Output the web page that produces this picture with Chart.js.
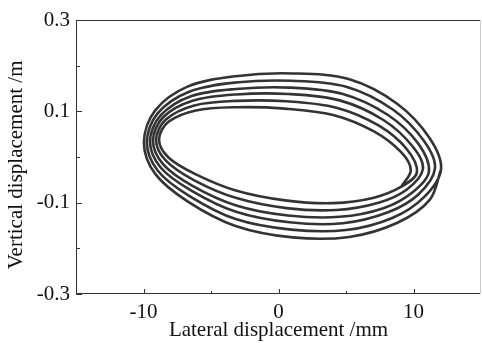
<!DOCTYPE html>
<html>
<head>
<meta charset="utf-8">
<script src="https://cdn.jsdelivr.net/npm/chart.js@4.4.0/dist/chart.umd.min.js"></script>
<style>
  html, body { margin: 0; padding: 0; background: #fff; }
</style>
</head>
<body>
<canvas id="orbitChart" width="482" height="343"></canvas>
<script>
// axis ticks
const xTicks = [-10, 0, 10];
const xMinorTicks = [-5, 5];
const yTicks = [-0.3, -0.1, 0.1, 0.3];
const yMinorTicks = [-0.2, 0, 0.2];

// lateral (mm) / vertical (m) displacement, one pair per loop, inner loop first.
// each loop starts at its right end and runs anticlockwise
const loop1X = [9.80, 9.10, 7.07, 4.05, 0.48, -3.10, -6.12, -8.15, -8.85, -8.15, -6.12, -3.10, 0.48, 4.05, 7.07, 9.10];
const loop1Y = [-0.029, 0.010, 0.056, 0.092, 0.106, 0.109, 0.102, 0.077, 0.039, -0.001, -0.038, -0.074, -0.095, -0.101, -0.089, -0.065];

const loop2X = [10.25, 9.51, 7.41, 4.29, 0.59, -3.11, -6.24, -8.34, -9.07, -8.34, -6.24, -3.11, 0.59, 4.29, 7.41, 9.51];
const loop2Y = [-0.034, 0.017, 0.069, 0.108, 0.122, 0.123, 0.113, 0.082, 0.038, -0.008, -0.051, -0.090, -0.112, -0.116, -0.100, -0.071];

const loop3X = [10.70, 9.94, 7.77, 4.53, 0.70, -3.13, -6.37, -8.54, -9.30, -8.54, -6.37, -3.13, 0.70, 4.53, 7.77, 9.94];
const loop3Y = [-0.026, 0.023, 0.081, 0.124, 0.138, 0.137, 0.123, 0.087, 0.036, -0.016, -0.063, -0.106, -0.128, -0.131, -0.112, -0.077];

const loop4X = [11.14, 10.36, 8.11, 4.77, 0.81, -3.15, -6.49, -8.73, -9.52, -8.73, -6.49, -3.15, 0.81, 4.77, 8.11, 10.36];
const loop4Y = [-0.032, 0.029, 0.092, 0.138, 0.152, 0.149, 0.133, 0.091, 0.035, -0.023, -0.073, -0.120, -0.143, -0.145, -0.121, -0.082];

const loop5X = [11.59, 10.78, 8.47, 5.01, 0.92, -3.17, -6.62, -8.94, -9.75, -8.94, -6.62, -3.17, 0.92, 5.01, 8.47, 10.78];
const loop5Y = [-0.025, 0.035, 0.104, 0.154, 0.167, 0.163, 0.143, 0.096, 0.033, -0.030, -0.085, -0.136, -0.159, -0.160, -0.133, -0.088];

const loop6X = [12.04, 11.20, 8.81, 5.25, 1.04, -3.18, -6.74, -9.13, -9.97, -9.13, -6.74, -3.18, 1.04, 5.25, 8.81, 11.20];
const loop6Y = [-0.027, 0.041, 0.116, 0.170, 0.183, 0.177, 0.154, 0.102, 0.032, -0.037, -0.097, -0.151, -0.176, -0.175, -0.144, -0.094];

const loopsX = [loop1X, loop2X, loop3X, loop4X, loop5X, loop6X];
const loopsY = [loop1Y, loop2Y, loop3Y, loop4Y, loop5Y, loop6Y];

// one continuous trajectory spiralling outward; first loop is entered from its
// last point and the outer loop is closed back onto its first point
const trajectory = [{ x: loop1X[15], y: loop1Y[15] }];
loopsX.forEach((xs, i) => {
    xs.forEach((x, j) => trajectory.push({ x: x, y: loopsY[i][j] }));
});
trajectory.push({ x: loop6X[0], y: loop6Y[0] });

const axisFont = { family: '"Liberation Serif", "Times New Roman", serif', size: 21 };
const textColor = '#111';

// box frame plus inward major/minor ticks
const frameTicks = {
    id: 'frameTicks',
    afterDraw(chart) {
        const { ctx, chartArea: a, scales: { x, y } } = chart;
        ctx.save();
        ctx.lineWidth = 1;
        ctx.strokeStyle = '#333';
        ctx.beginPath();
        ctx.moveTo(a.right, a.top + 0.5);
        ctx.lineTo(a.left + 0.5, a.top + 0.5);
        ctx.lineTo(a.left + 0.5, a.bottom - 0.5);
        ctx.lineTo(a.right, a.bottom - 0.5);
        ctx.stroke();

        ctx.strokeStyle = '#ccc';
        ctx.beginPath();
        ctx.moveTo(a.right - 0.5, a.top);
        ctx.lineTo(a.right - 0.5, a.bottom);
        ctx.stroke();

        ctx.strokeStyle = '#333';
        ctx.beginPath();
        const xTick = (v, len) => {
            const px = Math.round(x.getPixelForValue(v)) + 0.5;
            ctx.moveTo(px, a.bottom);
            ctx.lineTo(px, a.bottom - len);
        };
        const yTick = (v, len) => {
            const py = Math.round(y.getPixelForValue(v)) + 0.5;
            ctx.moveTo(a.left, py);
            ctx.lineTo(a.left + len, py);
        };
        xTicks.forEach(v => xTick(v, 5));
        xMinorTicks.forEach(v => xTick(v, 3));
        yTicks.forEach(v => yTick(v, 6));
        yMinorTicks.forEach(v => yTick(v, 4));
        ctx.stroke();
        ctx.restore();
    }
};

const ctx = document.getElementById('orbitChart').getContext('2d');
new Chart(ctx, {
    type: 'scatter',
    data: {
        datasets: [{
            data: trajectory,
            showLine: true,
            borderColor: '#333',
            borderWidth: 2.6,
            tension: 0.34,
            pointRadius: 0,
            fill: false
        }]
    },
    options: {
        responsive: false,
        animation: false,
        devicePixelRatio: 1,
        layout: { padding: { top: 20, right: 1, left: 0, bottom: 0 } },
        plugins: {
            legend: { display: false },
            tooltip: { enabled: false }
        },
        scales: {
            x: {
                type: 'linear',
                min: -15,
                max: 15,
                afterBuildTicks: s => { s.ticks = xTicks.map(v => ({ value: v })); },
                afterFit: s => { s.height = 49; },
                grid: { display: false, drawTicks: false },
                border: { display: false },
                ticks: { font: axisFont, color: textColor, padding: 6, maxRotation: 0, callback: v => String(v) },
                title: { display: true, text: 'Lateral displacement /mm', font: axisFont, color: textColor, padding: { top: 0, bottom: 0 } }
            },
            y: {
                type: 'linear',
                min: -0.3,
                max: 0.3,
                afterBuildTicks: s => { s.ticks = yTicks.map(v => ({ value: v })); },
                afterFit: s => { s.width = 76; },
                grid: { display: false, drawTicks: false },
                border: { display: false },
                ticks: { font: axisFont, color: textColor, padding: 6, callback: v => String(v) },
                // trailing spaces push the rotated title a little below the axis centre
                title: { display: true, text: 'Vertical displacement /m   ', font: axisFont, color: textColor, padding: { top: 4, bottom: 0 } }
            }
        }
    },
    plugins: [frameTicks]
});
</script>
</body>
</html>
